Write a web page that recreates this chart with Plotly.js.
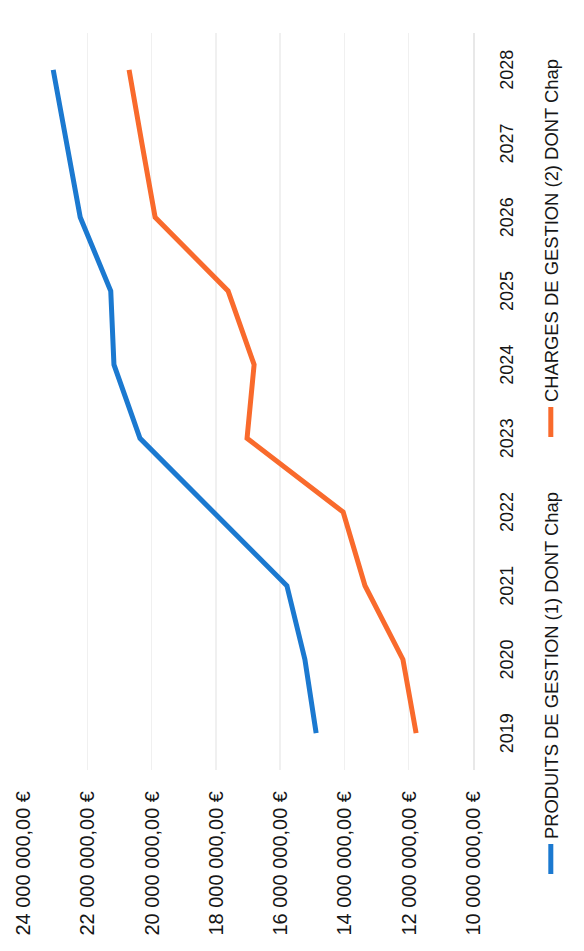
<!DOCTYPE html>
<html lang="fr">
<head>
<meta charset="utf-8">
<title>Produits et charges de gestion 2019-2028</title>
<script src="https://cdn.plot.ly/plotly-3.0.1.min.js"></script>
<style>
  html, body { margin: 0; padding: 0; background: #ffffff; overflow: hidden; }
  #page { position: relative; width: 584px; height: 951px; overflow: hidden; }
  /* The chart is laid out landscape (951 x 584) and turned a quarter turn
     counter-clockwise so that it sits upright on a portrait page. */
  #chart {
    position: absolute; left: 0; top: 0;
    width: 951px; height: 584px;
    transform-origin: 0 0;
    transform: translateY(951px) rotate(-90deg);
  }
</style>
</head>
<body>
<div id="page"><div id="chart"></div></div>
<script>
// Years on the category axis
const years = ['2019', '2020', '2021', '2022', '2023', '2024', '2025', '2026', '2027', '2028'];

// Produits de gestion (1) dont chapitres, in euros
const produits = [14880000, 15230000, 15790000, 18050000, 20360000, 21170000, 21270000, 22220000, 22630000, 23060000];

// Charges de gestion (2) dont chapitres, in euros
const charges = [11770000, 12180000, 13360000, 14040000, 17030000, 16810000, 17620000, 19890000, 20300000, 20700000];

// Series names shown in the legend
const seriesNames = ['PRODUITS DE GESTION (1) DONT Chap', 'CHARGES DE GESTION (2) DONT Chap'];

// Value axis: range and step
const valueRange = [10000000, 24000000];
const valueStep = 2000000;

const FONT = 'Liberation Sans, Arial, sans-serif';
const INK = '#161616';

const traces = [
  {
    type: 'scatter', mode: 'lines', name: seriesNames[0],
    x: years, y: produits,
    line: { color: '#1b79d0', width: 5 }
  },
  {
    type: 'scatter', mode: 'lines', name: seriesNames[1],
    x: years, y: charges,
    line: { color: '#f96a2c', width: 5 }
  }
];

const layout = {
  width: 951, height: 584,
  margin: { l: 181, r: 33, t: 23, b: 111, pad: 0 },
  paper_bgcolor: '#ffffff', plot_bgcolor: '#ffffff',
  separators: ', ',
  font: { family: FONT, color: INK },
  showlegend: true,
  legend: {
    orientation: 'h',
    x: -0.148, xanchor: 'left',
    y: -0.173, yanchor: 'middle',
    font: { family: FONT, size: 18.4, color: INK },
    entrywidth: 392, entrywidthmode: 'pixels',
    bgcolor: 'rgba(0,0,0,0)'
  },
  xaxis: {
    type: 'category',
    range: [-0.5, 9.5],
    showgrid: false, zeroline: false,
    showline: true, linecolor: '#e8e8e8', linewidth: 1.5,
    ticks: '',
    ticklabelstandoff: 17,
    tickfont: { family: FONT, size: 18, color: INK }
  },
  yaxis: {
    range: valueRange,
    dtick: valueStep, tick0: 0,
    tickformat: ',.2f', ticksuffix: ' €',
    showgrid: true, gridcolor: '#f0f0f0', gridwidth: 1.5,
    zeroline: false, showline: false,
    ticks: '',
    ticklabelstandoff: 20,
    tickfont: { family: FONT, size: 20, color: INK }
  }
};

Plotly.newPlot('chart', traces, layout, { staticPlot: true, displayModeBar: false });
</script>
</body>
</html>
